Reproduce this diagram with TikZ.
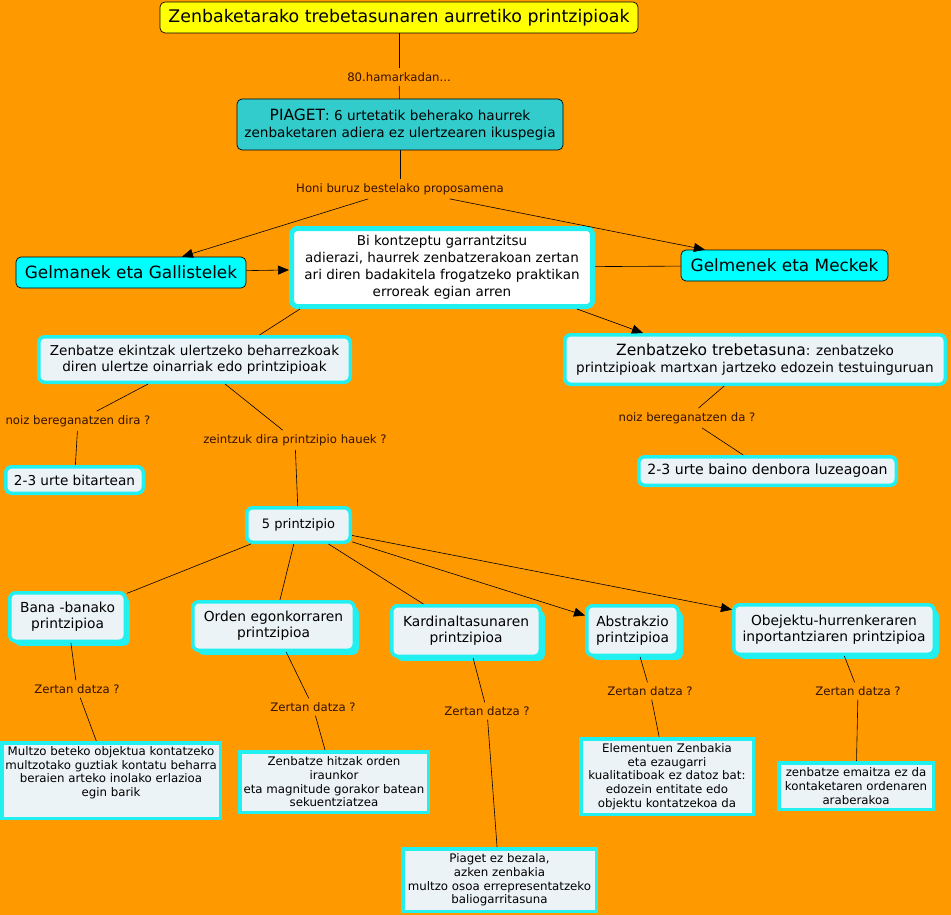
\documentclass[tikz,border=0pt]{standalone}
\usepackage{fontspec}
\setmainfont{DejaVu Sans}
\usetikzlibrary{arrows.meta,shadows}
\definecolor{bgorange}{RGB}{255,153,0}
\definecolor{titleyellow}{RGB}{255,255,0}
\definecolor{piagetteal}{RGB}{51,204,204}
\definecolor{namecyan}{RGB}{0,255,255}
\definecolor{rimcyan}{RGB}{34,240,240}
\definecolor{boxfill}{RGB}{236,243,246}
\definecolor{linkbrown}{RGB}{51,17,0}
\newcommand\titlefont{\fontsize{17.4}{20}\selectfont}
\newcommand\namefont{\fontsize{16.9}{20}\selectfont}
\newcommand\boxfont{\fontsize{13.6}{16.5}\selectfont}
\newcommand\rulefont{\fontsize{13.8}{16}\selectfont}
\newcommand\notefont{\fontsize{11.8}{13.7}\selectfont}
\newcommand\headfont{\fontsize{15.5}{16.5}\selectfont}

\begin{document}
\begin{tikzpicture}[x=1pt,y=-1pt,
    every node/.style={align=center, inner sep=0pt},
    concept/.style={draw=black, line width=0.7pt, rounded corners=5pt},
    idea/.style={fill=boxfill, draw=rimcyan, line width=3.5pt, rounded corners=6pt, font=\boxfont},
    rule/.style={idea, font=\rulefont, drop shadow={shadow xshift=4.5pt, shadow yshift=-4.5pt, fill=rimcyan, opacity=1}},
    note/.style={fill=boxfill, draw=rimcyan, line width=3.5pt, font=\notefont},
    link/.style={text=linkbrown, font=\fontsize{11.7}{13}\selectfont, inner sep=4pt},
    wire/.style={draw=black, line width=0.6pt},
    arr/.style={wire, -{Triangle[length=11pt,width=9pt]}}
]
\useasboundingbox (0,0) rectangle (951,915);
\fill[bgorange] (0,0) rectangle (951,915);

% top of the map
\node[concept, fill=titleyellow, minimum width=478, minimum height=31, font=\titlefont] (title) at (399,17.5)
    {Zenbaketarako trebetasunaren aurretiko printzipioak};
\node[link] (l80) at (399,77) {80.hamarkadan...};
\node[concept, fill=piagetteal, minimum width=326, minimum height=51, font=\boxfont] (piaget) at (400,124.5)
    {{\headfont PIAGET}: 6 urtetatik beherako haurrek\\zenbaketaren adiera ez ulertzearen ikuspegia};
\node[link] (lhoni) at (400,189) {Honi buruz bestelako proposamena};
\node[concept, fill=namecyan, minimum width=230, minimum height=31, font=\namefont] (gelmanek) at (131,272.5)
    {Gelmanek eta Gallistelek};
\node[concept, fill=namecyan, minimum width=207, minimum height=31, font=\namefont] (meckek) at (784.5,265.5)
    {Gelmenek eta Meckek};
\node[idea, fill=white, line width=5pt, minimum width=301, minimum height=78, font=\fontsize{13.5}{17}\selectfont] (bi) at (442,267.5)
    {Bi kontzeptu garrantzitsu\\adierazi, haurrek zenbatzerakoan zertan\\ari diren badakitela frogatzeko praktikan\\erroreak egian arren};

% second level
\node[idea, minimum width=311.5, minimum height=45.5] (zenb) at (194.5,359.5)
    {Zenbatze ekintzak ulertzeko beharrezkoak\\diren ulertze oinarriak edo printzipioak};
\node[idea, minimum width=380.5, minimum height=49.5] (treb) at (755,359.5)
    {{\headfont Zenbatzeko trebetasuna}: zenbatzeko\\printzipioak martxan jartzeko edozein testuinguruan};
\node[link] (lnoiz1) at (78,421) {noiz bereganatzen dira ?};
\node[idea, minimum width=137.5, minimum height=26.5] (bitartean) at (74.5,480)
    {2-3 urte bitartean};
\node[link] (lzeintzuk) at (295,440) {zeintzuk dira printzipio hauek ?};
\node[idea, font=\fontsize{13}{16}\selectfont, minimum width=103.5, minimum height=34.5] (p5) at (298.5,525) {5 printzipio};
\node[link] (lnoiz2) at (687,418) {noiz bereganatzen da ?};
\node[idea, font=\fontsize{14.1}{16}\selectfont, minimum width=257.5, minimum height=28.5] (luze) at (767.5,471)
    {2-3 urte baino denbora luzeagoan};

% the five principles
\node[rule, minimum width=115.5, minimum height=48.5] (bana) at (67.5,617)
    {Bana -banako\\printzipioa};
\node[rule, minimum width=161.5, minimum height=48.5] (orden) at (273.5,626)
    {Orden egonkorraren\\printzipioa};
\node[rule, minimum width=148.5, minimum height=50.5] (kard) at (466,631)
    {Kardinaltasunaren\\printzipioa};
\node[rule, minimum width=91.5, minimum height=49.5] (abstr) at (632.5,630.5)
    {Abstrakzio\\printzipioa};
\node[rule, minimum width=200.5, minimum height=49.5] (obej) at (834,629.5)
    {Obejektu-hurrenkeraren\\inportantziaren printzipioa};

\node[link] (zbana) at (77,689) {Zertan datza ?};
\node[link] (zorden) at (313,707) {Zertan datza ?};
\node[link] (zkard) at (487,711) {Zertan datza ?};
\node[link] (zabstr) at (650,691) {Zertan datza ?};
\node[link] (zobej) at (858,691) {Zertan datza ?};

% explanations
\node[note, minimum width=218.5, minimum height=75.5] (multzo) at (111,780.5)
    {Multzo beteko objektua kontatzeko\\multzotako guztiak kontatu beharra\\beraien arteko inolako erlazioa\\egin barik\\[4pt]};
\node[note, minimum width=188.5, minimum height=60.5] (hitzak) at (334,782)
    {Zenbatze hitzak orden\\iraunkor\\eta magnitude gorakor batean\\sekuentziatzea};
\node[note, minimum width=193.5, minimum height=62.5] (piagetez) at (499.5,880)
    {Piaget ez bezala,\\azken zenbakia\\multzo osoa errepresentatzeko\\baliogarritasuna};
\node[note, minimum width=172.5, minimum height=75.5] (elem) at (667,776.5)
    {Elementuen Zenbakia\\eta ezaugarri\\kualitatiboak ez datoz bat:\\edozein entitate edo\\objektu kontatzekoa da};
\node[note, minimum width=154.5, minimum height=46.5] (emaitza) at (856,786)
    {zenbatze emaitza ez da\\kontaketaren ordenaren\\araberakoa};

% connectors
\draw[wire] (title) -- (l80);
\draw[wire] (l80) -- (piaget);
\draw[wire] (piaget) -- (lhoni);
\draw[arr] (lhoni) -- (gelmanek);
\draw[arr] (lhoni) -- (meckek);
\draw[arr] (gelmanek) -- (bi);
\draw[wire] (meckek) -- (bi);
\draw[wire] ([xshift=11pt]bi.south west) -- ([xshift=65pt]zenb.north);
\draw[arr] ([xshift=-18pt]bi.south east) -- ([xshift=-112pt]treb.north);
\draw[wire] (zenb) -- (lnoiz1);
\draw[wire] (lnoiz1) -- (bitartean);
\draw[wire] (zenb) -- (lzeintzuk);
\draw[wire] (lzeintzuk) -- (p5);
\draw[wire] (treb) -- (lnoiz2);
\draw[wire] (lnoiz2) -- (luze);
\draw[wire] (p5) -- (bana);
\draw[wire] (p5) -- (orden);
\draw[wire] (p5) -- (kard);
\draw[arr] (p5) -- (abstr);
\draw[arr] (p5) -- (obej);
\draw[wire] (bana) -- (zbana);
\draw[wire] (zbana) -- (multzo);
\draw[wire] (orden) -- (zorden);
\draw[wire] (zorden) -- (hitzak);
\draw[wire] (kard) -- (zkard);
\draw[wire] (zkard) -- (piagetez);
\draw[wire] (abstr) -- (zabstr);
\draw[wire] (zabstr) -- (elem);
\draw[wire] (obej) -- (zobej);
\draw[wire] (zobej) -- (emaitza);
\end{tikzpicture}
\end{document}
